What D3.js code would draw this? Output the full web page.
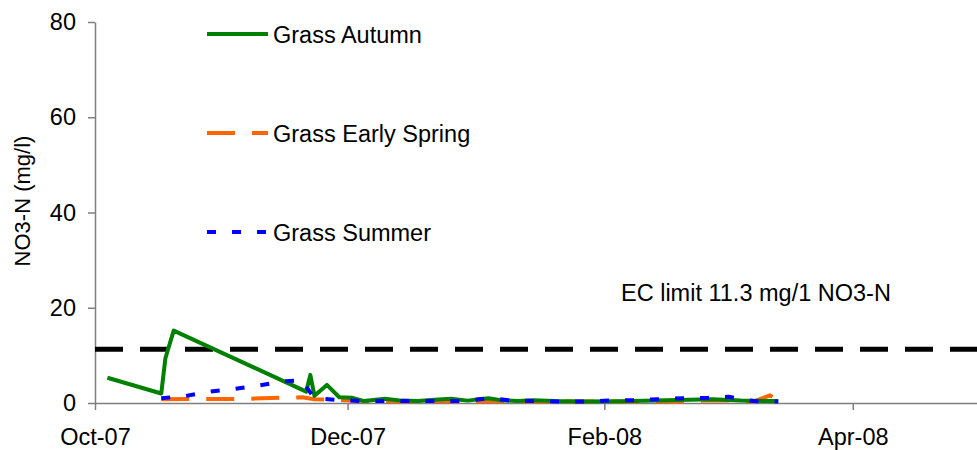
<!DOCTYPE html>
<html>
<head>
<meta charset="utf-8">
<script src="https://cdn.jsdelivr.net/npm/d3@7"></script>
<style>
  body { margin: 0; background: #fff; }
  svg { display: block; font-family: "Liberation Sans", Arial, sans-serif; }
</style>
</head>
<body>
<svg id="chart" width="977" height="450"></svg>
<script>
// ---- Data ----
const seriesNames = ["Grass Autumn", "Grass Early Spring", "Grass Summer"];

const autumnDates = ["2007-10-04","2007-10-17","2007-10-18","2007-10-20","2007-11-21","2007-11-22","2007-11-23","2007-11-26","2007-11-29","2007-12-02","2007-12-05","2007-12-10","2007-12-14","2007-12-18","2007-12-22","2007-12-26","2007-12-30","2008-01-04","2008-01-07","2008-01-11","2008-01-15","2008-01-20","2008-01-26","2008-02-05","2008-02-16","2008-02-27","2008-03-05","2008-03-14"];
const autumnValues = [5.3,2.0,9.4,15.2,2.4,5.9,1.5,3.8,1.2,1.1,0.4,0.9,0.5,0.4,0.7,0.9,0.5,1.0,0.6,0.4,0.6,0.4,0.3,0.35,0.6,0.8,0.5,0.4];

const springDates = ["2007-10-17","2007-11-05","2007-11-15","2007-11-20","2007-11-23","2007-11-29","2007-12-03","2007-12-07","2007-12-10","2007-12-17","2007-12-24","2007-12-31","2008-01-07","2008-01-14","2008-01-21","2008-01-28","2008-02-04","2008-02-11","2008-02-18","2008-02-25","2008-03-03","2008-03-08","2008-03-12","2008-03-14"];
const springValues = [0.8,0.85,1.1,1.2,0.8,0.6,0.5,0.3,0.35,0.3,0.4,0.3,0.4,0.3,0.35,0.3,0.3,0.35,0.3,0.5,0.5,0.3,1.6,0.5];

const summerDates = ["2007-10-17","2007-10-23","2007-10-29","2007-11-03","2007-11-09","2007-11-15","2007-11-20","2007-11-21","2007-11-23","2007-11-29","2007-12-05","2007-12-12","2007-12-17","2007-12-23","2007-12-29","2008-01-04","2008-01-10","2008-01-16","2008-01-22","2008-01-27","2008-02-02","2008-02-08","2008-02-14","2008-02-20","2008-02-26","2008-03-02","2008-03-08","2008-03-14"];
const summerValues = [1.0,1.5,2.4,2.9,3.6,4.5,4.8,3.4,1.0,0.6,0.4,0.4,0.4,0.4,0.4,1.0,0.5,0.4,0.3,0.3,0.5,0.6,0.8,1.0,1.1,1.3,0.4,0.3];

const ecLimit = 11.3;
const ecLabel = "EC limit 11.3 mg/1 NO3-N";
const yTicks = [0, 20, 40, 60, 80];
const xTickDates = ["2007-10-01","2007-12-01","2008-02-01","2008-04-01"];
const xDomain = ["2007-10-01","2008-05-01"];
const yTitle = "NO3-N (mg/l)";

// ---- Layout ----
const W = 977, H = 450;
const m = {left: 95, top: 22, right: 0, bottom: 47};
const parse = d3.utcParse("%Y-%m-%d");
const svg = d3.select("#chart");

const x = d3.scaleUtc().domain(xDomain.map(parse)).range([m.left, W - m.right]);
const y = d3.scaleLinear().domain([0, 80]).range([H - m.bottom, m.top]);

const FONT = 23.5;
const axisColor = "#7f7f7f";

// Y axis
const yAxis = svg.append("g").attr("transform", `translate(${m.left},0)`)
  .call(d3.axisLeft(y).tickValues(yTicks).tickSize(7).tickPadding(12).tickSizeOuter(0));
// X axis
const xAxis = svg.append("g").attr("transform", `translate(0,${H - m.bottom})`)
  .call(d3.axisBottom(x).tickValues(xTickDates.map(parse)).tickSize(7).tickPadding(18).tickSizeOuter(0)
    .tickFormat(d3.utcFormat("%b-%y")));
[yAxis, xAxis].forEach(g => {
  g.select(".domain").attr("stroke", axisColor).attr("stroke-width", 1.5);
  g.selectAll(".tick line").attr("stroke", axisColor).attr("stroke-width", 1.5);
  g.selectAll("text").attr("fill", "#000").style("font-size", FONT + "px")
    .style("font-family", '"Liberation Sans", Arial, sans-serif');
});

// Y title
svg.append("text")
  .attr("transform", `translate(30,201) rotate(-90)`)
  .attr("text-anchor", "middle")
  .style("font-size", "22px")
  .text(yTitle);

// EC limit line
svg.append("line")
  .attr("x1", m.left).attr("x2", W)
  .attr("y1", y(ecLimit)).attr("y2", y(ecLimit))
  .attr("stroke", "#000").attr("stroke-width", 5).attr("stroke-dasharray", "28,17");
svg.append("text").attr("x", 621).attr("y", 301)
  .style("font-size", FONT + "px").text(ecLabel);

// Series
const series = [
  {name: seriesNames[0], dates: autumnDates, values: autumnValues, color: "#008000", dash: null},
  {name: seriesNames[1], dates: springDates, values: springValues, color: "#ff6600", dash: "28,17"},
  {name: seriesNames[2], dates: summerDates, values: summerValues, color: "#0000ff", dash: "9,16"}
];
const line = d3.line().x(d => x(d[0])).y(d => y(d[1]));

// draw order: spring, autumn, summer on top
[1, 0, 2].forEach(i => {
  const s = series[i];
  const pts = s.dates.map((d, j) => [parse(d), s.values[j]]);
  svg.append("path").datum(pts)
    .attr("fill", "none").attr("stroke", s.color).attr("stroke-width", 4)
    .attr("stroke-linejoin", "round")
    .attr("stroke-dasharray", s.dash)
    .attr("d", line);
});

// Legend
const legY = [34, 133, 232];
series.forEach((s, i) => {
  svg.append("line").attr("x1", 207).attr("x2", 268)
    .attr("y1", legY[i]).attr("y2", legY[i])
    .attr("stroke", s.color).attr("stroke-width", 4)
    .attr("stroke-dasharray", s.dash);
  svg.append("text").attr("x", 273).attr("y", legY[i] + 9)
    .style("font-size", FONT + "px").text(s.name);
});
</script>
</body>
</html>
